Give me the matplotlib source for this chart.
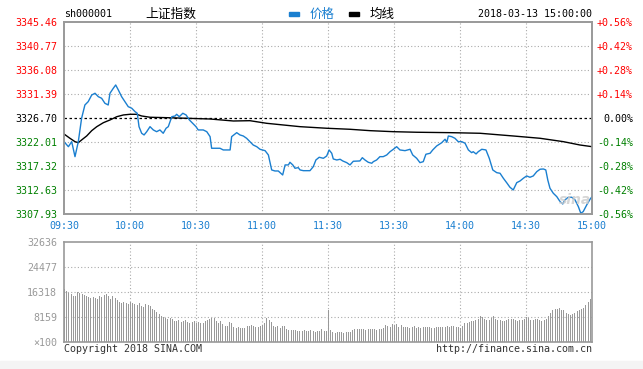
import numpy as np
import matplotlib
matplotlib.use("Agg")
from matplotlib import pyplot as plt

# ---- data (minute index from 09:30, 120 = 11:30/13:00, 240 = 15:00) ----
prev_close = 3326.70

price_t = [0, 2, 3.5, 5, 6.5, 8, 9.5, 11, 12.6, 14.1, 15.6, 17.1, 18.6, 20.1, 20.9, 22.4, 23.5,
           24.7, 26.2, 27.7, 29.2, 30.8, 32.3, 33.3, 34.1, 35.3, 36.4, 37.6, 39.1, 40.6, 42.1,
           43.6, 45.1, 46.4, 47.4, 49, 50.5, 51.2, 52.4, 54, 55.5, 57, 58.5, 60, 61, 63.3, 64.9,
           66.4, 67.1, 68.6, 70.9, 72.4, 75.5, 76.2, 78.5, 80, 81.5, 83, 84.5, 86, 87.6, 89.1,
           91.4, 92.9, 94.4, 95.9, 97.4, 99.4, 100.5, 102, 102.7, 104, 105, 106.5, 107.3, 108.8,
           111.8, 113.3, 114.5, 116, 117.9, 119.4, 120.5, 121.7, 122.4, 124, 125.5, 126.7, 128.5,
           130, 131.5, 134.5, 135.6, 136.8, 138.3, 139.9, 140.6, 142.1, 143.6, 145.1, 146.7,
           148.2, 149.7, 151.2, 152.7, 155, 157.3, 158.5, 160.3, 161.8, 163.3, 164.5, 166.4,
           167.6, 169.4, 171.7, 173.2, 174, 174.7, 176.2, 177.7, 179.2, 180.8, 182.3, 183.8,
           185.3, 186, 187.3, 188.3, 189.9, 191.8, 193.3, 194.9, 196.7, 198.2, 199.7, 201.2,
           202.7, 204.2, 205.8, 207.3, 208.8, 210.3, 211.8, 213.3, 214.9, 216.4, 217.9, 219,
           219.9, 220.9, 222.4, 224, 225.5, 226.7, 227.7, 229.2, 230.8, 232.3, 233.8, 234.9,
           236, 237.6, 239.1, 240]
price = [3322.07, 3321.09, 3322.07, 3319.14, 3322.07, 3326.64, 3329.24, 3329.89, 3331.19,
         3331.53, 3330.86, 3330.55, 3329.57, 3329.24, 3331.53, 3332.50, 3333.15, 3332.17,
         3330.86, 3329.89, 3328.91, 3328.60, 3327.93, 3327.62, 3325.00, 3323.71, 3323.38,
         3324.02, 3325.00, 3324.36, 3324.02, 3324.36, 3323.71, 3324.69, 3325.00, 3326.95,
         3327.09, 3327.42, 3326.95, 3327.62, 3327.29, 3326.31, 3325.66, 3325.00, 3324.36,
         3324.36, 3324.02, 3323.05, 3320.78, 3320.78, 3320.78, 3320.45, 3320.45, 3323.05,
         3323.83, 3323.38, 3323.18, 3322.73, 3322.07, 3321.42, 3321.09, 3320.58, 3320.31,
         3319.47, 3316.54, 3316.34, 3316.34, 3315.56, 3317.52, 3317.52, 3318.04, 3317.52,
         3316.87, 3316.99, 3316.54, 3316.40, 3316.40, 3317.18, 3318.49, 3319.02, 3318.82,
         3319.27, 3320.45, 3319.80, 3318.69, 3318.49, 3318.63, 3318.30, 3317.97, 3317.52,
         3318.24, 3318.30, 3318.94, 3318.49, 3318.04, 3317.85, 3318.16, 3318.49, 3319.14,
         3319.14, 3319.47, 3320.11, 3320.58, 3321.09, 3320.45, 3320.31, 3320.58, 3319.47,
         3318.82, 3317.97, 3318.16, 3319.61, 3319.80, 3320.45, 3321.23, 3321.87, 3322.54,
         3321.95, 3323.18, 3323.05, 3322.73, 3322.07, 3322.07, 3321.76, 3320.45, 3319.92,
         3320.11, 3319.67, 3320.11, 3320.58, 3320.45, 3318.82, 3316.54, 3316.01, 3315.89,
         3314.92, 3314.06, 3313.16, 3312.63, 3314.06, 3314.39, 3314.92, 3315.37, 3315.11,
         3315.37, 3316.21, 3316.68, 3316.73, 3316.54, 3314.58, 3312.96, 3311.99, 3311.32,
         3310.34, 3309.89, 3310.68, 3311.20, 3311.20, 3310.68, 3309.37, 3308.08, 3308.39,
         3309.70, 3310.81, 3311.32]

avg_t = [0, 2.7, 5, 6.5, 8, 10.3, 12.6, 14.9, 17.9, 20.9, 24, 27, 30, 33, 35.3, 39.1, 46.7,
         55.8, 66.4, 77, 84.5, 92.1, 99.7, 107.3, 119.4, 130, 139.1, 149.7, 160.3, 175.5,
         189.1, 204.2, 216.4, 227, 234.5, 240]
avg_price = [3323.57, 3322.73, 3322.07, 3321.87, 3322.40, 3323.18, 3324.22, 3325.00, 3325.78,
             3326.31, 3326.95, 3327.29, 3327.42, 3327.42, 3327.09, 3326.84, 3326.76, 3326.64,
             3326.50, 3326.11, 3326.17, 3325.66, 3325.33, 3325.00, 3324.69, 3324.49, 3324.22,
             3324.02, 3323.91, 3323.83, 3323.71, 3323.18, 3322.73, 3322.07, 3321.42, 3321.09]

# volume, in units of 100 lots, one bar per minute
volume = [17300, 16640, 15990, 15670, 15010, 15010, 16320, 15990,
          15670, 15340, 15010, 14690, 14360, 14690, 14360, 14030, 15010,
          14690, 15340, 15670, 15010, 14030, 15010, 14360,
          13710, 13050, 12730, 13050, 12730, 12400, 13050,
          12730, 12400, 12080, 12730, 11750, 11420, 12400, 12080, 11750, 10770,
          10440, 9790, 9140, 8490, 8160,
          7830, 7510, 7830, 7510, 6850, 6850, 7180, 6530, 6850, 7180,
          6530, 6200, 6530, 6850, 6200, 6530, 6200, 6200, 6850, 7180,
          7510, 7830, 7830, 6850, 6200, 6850, 5870, 5220, 5220, 6530,
          6200, 4900, 4570, 4900, 4570, 4570, 4570, 5220, 5220, 5550,
          5220, 4900, 4900, 5220, 5550, 6200, 7830, 7180, 6530, 5220,
          4900, 5220, 4570, 5220, 5220, 4240, 3920, 3920, 3920, 3920,
          3590, 3590, 3590, 3920, 3590, 3590, 3920, 3590, 3260, 3590, 3590, 4240, 3590, 3590,
          10440,
          3920, 3260, 2940, 3260, 3260, 3260, 2940, 3260, 3260, 3260,
          3920, 4240, 4240, 4240, 4240, 4240, 3920, 4240, 4240, 4240,
          4240, 3920, 4240, 4240, 4570, 5550, 5220, 4900, 5870, 5550,
          5870, 4900, 5550, 4900, 4900, 4900, 4570, 4900, 5220, 4570,
          4900, 4570, 4900, 4900, 4900, 4900, 4570, 4570, 4900, 4900,
          4900, 4900, 4900, 5220, 4900, 5220, 5220, 4900, 4900, 4570,
          5220, 6200, 6200, 6530, 6850, 6850, 7180, 7510, 8490, 8160,
          7510, 7180, 7180, 7830, 8490, 7510, 7180, 7180, 6850, 6850,
          7180, 7510, 7510, 7510, 7180, 6850, 7180, 7180, 7510, 8160,
          7830, 7180, 7180, 7510, 7510, 7180, 6850, 7180, 7510, 8490,
          9460, 10440, 10770, 10770, 11100, 10440, 10440, 9460, 9140, 8810,
          9140, 9460, 10120, 10440, 10770, 11100, 12080, 13050, 14030, 19580]

price_ticks = [3307.93, 3312.63, 3317.32, 3322.01, 3326.70, 3331.39, 3336.08, 3340.77, 3345.46]
vol_ticks = [0, 8159, 16318, 24477, 32636]
time_labels = ["09:30", "10:00", "10:30", "11:00", "11:30", "13:30", "14:00", "14:30", "15:00"]

# ---- styles ----
W, H = 643, 369
BLUE = "#1a7fd0"
GRID = "#aaaaaa"
FRAME = "#999999"
RED = "#ff0000"
GREEN = "#008000"
MONO = "DejaVu Sans Mono"
CJK = ["Noto Sans CJK SC", "DejaVu Sans"]
FS = 7.2


def box(x0, y0, x1, y1):
    return [x0 / W, 1 - y1 / H, (x1 - x0) / W, (y1 - y0) / H]


fig = plt.figure(figsize=(W / 100, H / 100), dpi=100)
fig.patch.set_facecolor("white")
fig.patches.append(plt.Rectangle((0, 0), 1, 8 / H, transform=fig.transFigure,
                                 color="#f4f4f4", zorder=0))

# ---- price panel ----
ax = fig.add_axes(box(64, 22, 592, 214))
ax.set_xlim(0, 240)
ax.set_ylim(price_ticks[0], price_ticks[-1])
for p in price_ticks[1:-1]:
    if p == prev_close:
        ax.axhline(p, color="black", lw=0.9, ls=(0, (2, 2)), zorder=1)
    else:
        ax.axhline(p, color=GRID, lw=0.8, ls=(0, (1, 2)), zorder=1)
for t in range(30, 240, 30):
    ax.axvline(t, color=GRID, lw=0.8, ls=(0, (1, 2)), zorder=1)

ax.plot(avg_t, avg_price, color="black", lw=1.0, zorder=3)
ax.plot(price_t, price, color=BLUE, lw=1.0, zorder=4)

ax.set_xticks(range(0, 241, 30))
ax.set_xticklabels(time_labels, fontfamily=MONO, fontsize=FS, color=BLUE)
ax.set_yticks(price_ticks)
ax.set_yticklabels(["%.2f" % p for p in price_ticks], fontfamily=MONO, fontsize=FS)
for p, lab in zip(price_ticks, ax.get_yticklabels()):
    lab.set_color(RED if p > prev_close else (GREEN if p < prev_close else "black"))
ax.tick_params(length=0, pad=5)
ax.tick_params(axis="x", pad=5)

ax2 = ax.twinx()
ax2.set_ylim(ax.get_ylim())
ax2.set_yticks(price_ticks)
pct = [(p / prev_close - 1) * 100 for p in price_ticks]
ax2.set_yticklabels([("%+.2f%%" % v) if abs(v) > 0.001 else "0.00%" for v in pct],
                    fontfamily=MONO, fontsize=FS, ha="right")
for v, lab in zip(pct, ax2.get_yticklabels()):
    lab.set_color(RED if v > 0.001 else (GREEN if v < -0.001 else "black"))
ax2.tick_params(length=0, pad=29.5)
for a in (ax, ax2):
    for s in a.spines.values():
        s.set_color(FRAME)
        s.set_linewidth(1.2)

# ---- volume panel ----
axv = fig.add_axes(box(64, 242, 592, 342))
axv.set_xlim(0, 240)
axv.set_ylim(0, vol_ticks[-1])
for v in vol_ticks[1:-1]:
    axv.axhline(v, color=GRID, lw=0.8, ls=(0, (1, 2)), zorder=1)
for t in range(30, 240, 30):
    axv.axvline(t, color=GRID, lw=0.8, ls=(0, (1, 2)), zorder=1)
axv.vlines(np.arange(len(volume)), 0, volume, color=FRAME, lw=0.5,
           antialiased=False, zorder=2)
axv.set_xticks([])
axv.set_yticks(vol_ticks)
axv.set_yticklabels(["\u00d7100"] + [str(v) for v in vol_ticks[1:]],
                    fontfamily=MONO, fontsize=FS, color=FRAME)
axv.tick_params(length=0, pad=5)
for s in axv.spines.values():
    s.set_color(FRAME)
    s.set_linewidth(1.2)

# ---- header / footer texts ----
fig.text(64 / W, 1 - 14 / H, "sh000001", fontfamily=MONO, fontsize=FS, va="center")
fig.text(145 / W, 1 - 14 / H, "上证指数", family=CJK, fontsize=9.2, va="center")
fig.patches.append(plt.Rectangle((289 / W, 1 - 15.5 / H), 10 / W, 3 / H,
                                 transform=fig.transFigure, color=BLUE))
fig.text(310 / W, 1 - 14 / H, "价格", family=CJK, fontsize=9, color=BLUE, va="center")
fig.patches.append(plt.Rectangle((349 / W, 1 - 15.5 / H), 10 / W, 3 / H,
                                 transform=fig.transFigure, color="black"))
fig.text(370 / W, 1 - 14 / H, "均线", family=CJK, fontsize=9, va="center")
fig.text(592 / W, 1 - 14 / H, "2018-03-13 15:00:00", fontfamily=MONO, fontsize=FS,
         ha="right", va="center")
fig.text(575 / W, 1 - 200 / H, "sina", fontsize=10, color="#cccccc", style="italic",
         weight="bold", ha="center", va="center", alpha=0.8)

fig.text(64 / W, 1 - 349 / H, "Copyright 2018 SINA.COM", fontfamily=MONO, fontsize=FS,
         color="#333333", va="center")
fig.text(592 / W, 1 - 349 / H, "http://finance.sina.com.cn", fontfamily=MONO, fontsize=FS,
         color="#333333", ha="right", va="center")

fig.savefig("out.png", dpi=100)
